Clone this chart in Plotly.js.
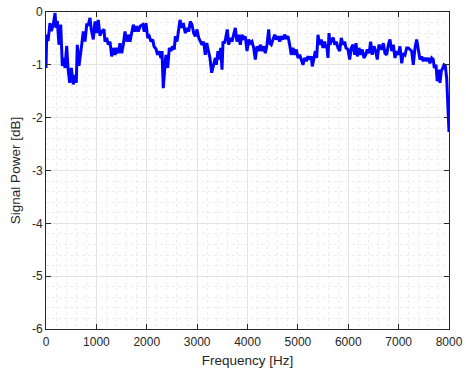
<!DOCTYPE html>
<html>
<head>
<meta charset="utf-8">
<script src="https://cdn.plot.ly/plotly-3.0.1.min.js"></script>
<style>
  html, body { margin: 0; padding: 0; background: #ffffff; }
  #chart { width: 466px; height: 376px; }
</style>
</head>
<body>
<div id="chart"></div>
<script>
// Frequency bins [Hz]
const frequency = [
  0, 14, 40, 79, 105, 145, 179, 199, 224, 258, 292, 324, 357, 377, 411, 437, 470, 502, 542, 576,
  601, 621, 655, 689, 709, 740, 774, 808, 840, 873, 899, 939, 973, 1006, 1038, 1072, 1106, 1151, 1171, 1205,
  1237, 1270, 1304, 1336, 1370, 1403, 1435, 1469, 1503, 1534, 1568, 1602, 1634, 1667, 1701, 1733, 1767, 1800, 1832, 1866,
  1919, 1951, 1985, 2019, 2051, 2084, 2118, 2144, 2184, 2216, 2240, 2283, 2303, 2328, 2362, 2382, 2416, 2448, 2481, 2515,
  2547, 2567, 2600, 2634, 2660, 2694, 2725, 2765, 2799, 2833, 2864, 2898, 2932, 2964, 2997, 3031, 3063, 3097, 3130, 3162,
  3190, 3222, 3255, 3289, 3321, 3361, 3381, 3414, 3440, 3468, 3494, 3514, 3547, 3579, 3599, 3627, 3659, 3692, 3726, 3758,
  3791, 3825, 3857, 3891, 3924, 3956, 3990, 4024, 4055, 4089, 4123, 4155, 4188, 4222, 4254, 4288, 4321, 4353, 4387, 4421,
  4440, 4472, 4506, 4540, 4572, 4605, 4639, 4671, 4704, 4738, 4770, 4804, 4837, 4869, 4903, 4937, 4969, 5002, 5036, 5068,
  5101, 5135, 5167, 5201, 5234, 5266, 5286, 5314, 5346, 5373, 5399, 5433, 5465, 5498, 5532, 5552, 5572, 5598, 5618, 5637,
  5671, 5703, 5731, 5763, 5796, 5830, 5862, 5896, 5929, 5955, 5995, 6028, 6060, 6094, 6128, 6154, 6179, 6213, 6247, 6279,
  6312, 6346, 6378, 6412, 6445, 6477, 6511, 6545, 6576, 6610, 6664, 6696, 6729, 6763, 6795, 6828, 6862, 6894, 6928, 6961,
  6993, 7027, 7061, 7093, 7126, 7160, 7192, 7225, 7259, 7291, 7325, 7358, 7390, 7424, 7457, 7490, 7523, 7557, 7589, 7622,
  7656, 7688, 7708, 7742, 7767, 7795, 7821, 7847, 7875, 7900, 7926, 7954, 8000
];

// Signal power [dB]
const signalPower = [
  -1.06, -0.43, -0.55, -0.21, -0.36, -0.24, -0.02, -0.30, -0.17, -0.62, -0.24, -1.02, -0.87, -1.06, -0.64, -1.06, -1.34, -1.06, -1.37, -1.19,
  -1.34, -0.62, -1.02, -0.81, -0.62, -0.37, -0.56, -0.24, -0.24, -0.11, -0.33, -0.52, -0.18, -0.40, -0.15, -0.45, -0.37, -0.33, -0.56, -0.49,
  -0.62, -0.56, -0.84, -0.68, -0.81, -0.68, -0.78, -0.59, -0.78, -0.62, -0.37, -0.56, -0.43, -0.56, -0.37, -0.24, -0.37, -0.27, -0.37, -0.27,
  -0.24, -0.37, -0.21, -0.49, -0.46, -0.56, -0.52, -0.65, -0.70, -0.81, -0.74, -0.87, -0.74, -1.44, -1.00, -0.81, -1.06, -0.68, -0.74, -0.65,
  -0.71, -0.46, -0.56, -0.30, -0.15, -0.30, -0.21, -0.40, -0.30, -0.37, -0.18, -0.24, -0.40, -0.46, -0.33, -0.49, -0.56, -0.62, -0.56, -0.81,
  -0.59, -0.71, -0.87, -1.15, -1.00, -0.87, -1.00, -0.74, -0.90, -0.68, -1.09, -0.56, -0.59, -0.43, -0.33, -0.62, -0.49, -0.56, -0.43, -0.30,
  -0.56, -0.43, -0.62, -0.43, -0.52, -0.46, -0.74, -0.52, -0.59, -0.56, -0.68, -0.90, -0.65, -0.74, -0.62, -0.74, -0.65, -0.78, -0.62, -0.33,
  -0.59, -0.62, -0.52, -0.43, -0.52, -0.46, -0.56, -0.46, -0.52, -0.43, -0.49, -0.46, -0.62, -0.81, -0.68, -0.81, -0.71, -0.87, -0.81, -0.93,
  -1.00, -0.87, -0.93, -0.84, -0.90, -0.84, -1.03, -0.90, -0.74, -0.87, -0.43, -0.62, -0.52, -0.68, -0.56, -0.68, -0.62, -0.87, -0.40, -0.62,
  -0.52, -0.49, -0.62, -0.56, -0.68, -0.74, -0.49, -0.62, -0.56, -0.68, -0.71, -0.90, -0.68, -0.62, -0.81, -0.59, -0.84, -0.68, -0.81, -0.71,
  -0.87, -0.81, -0.71, -0.78, -0.56, -0.81, -0.65, -0.74, -0.90, -0.62, -0.71, -0.59, -0.78, -0.81, -0.62, -0.52, -0.74, -0.62, -0.87, -0.74,
  -0.81, -0.65, -0.97, -0.78, -0.81, -0.68, -0.68, -0.71, -0.74, -1.00, -0.68, -0.52, -0.71, -0.90, -0.84, -0.93, -0.87, -0.93, -0.87, -0.97,
  -0.87, -0.90, -1.06, -1.00, -1.31, -1.09, -1.34, -1.12, -1.06, -1.00, -1.02, -1.25, -2.27
];

const xTicks = [0, 1000, 2000, 3000, 4000, 5000, 6000, 7000, 8000];
const yTicks = [-6, -5, -4, -3, -2, -1, 0];

const fontFamily = 'Liberation Sans, Arial, sans-serif';
const axisColor = '#262626';
const gridColor = '#e3e3e3';
const minorGridColor = '#ededed';

const trace = {
  x: frequency,
  y: signalPower,
  type: 'scatter',
  mode: 'lines',
  line: { color: '#0000ff', width: 3 },
  hoverinfo: 'skip'
};

const commonAxis = {
  showline: true,
  linecolor: axisColor,
  linewidth: 1,
  mirror: 'ticks',
  ticks: 'inside',
  ticklen: 5,
  tickwidth: 1,
  tickcolor: axisColor,
  showgrid: true,
  gridcolor: gridColor,
  gridwidth: 1,
  zeroline: false,
  tickfont: { family: fontFamily, size: 12, color: axisColor },
  fixedrange: true
};

const layout = {
  width: 466,
  height: 376,
  margin: { l: 46, r: 17, t: 12, b: 47 },
  paper_bgcolor: '#ffffff',
  plot_bgcolor: '#ffffff',
  showlegend: false,
  xaxis: Object.assign({}, commonAxis, {
    range: [0, 8000],
    tickmode: 'array',
    tickvals: xTicks,
    ticktext: xTicks.map(String),
    ticklabelstandoff: 2,
    minor: { dtick: 200, tick0: 0, showgrid: true, gridcolor: minorGridColor, griddash: 'dot', gridwidth: 1, ticks: '' },
    title: { text: 'Frequency [Hz]', font: { family: fontFamily, size: 13.5, color: axisColor }, standoff: 7 },
    automargin: false
  }),
  yaxis: Object.assign({}, commonAxis, {
    range: [-6, 0],
    tickmode: 'array',
    tickvals: yTicks,
    ticktext: yTicks.map(String),
    minor: { dtick: 0.2, tick0: 0, showgrid: true, gridcolor: minorGridColor, griddash: 'dot', gridwidth: 1, ticks: '' },
    title: { text: 'Signal Power [dB]', font: { family: fontFamily, size: 13.5, color: axisColor }, standoff: 8 },
    automargin: false
  })
};

Plotly.newPlot('chart', [trace], layout, { staticPlot: true, displayModeBar: false });
</script>
</body>
</html>
